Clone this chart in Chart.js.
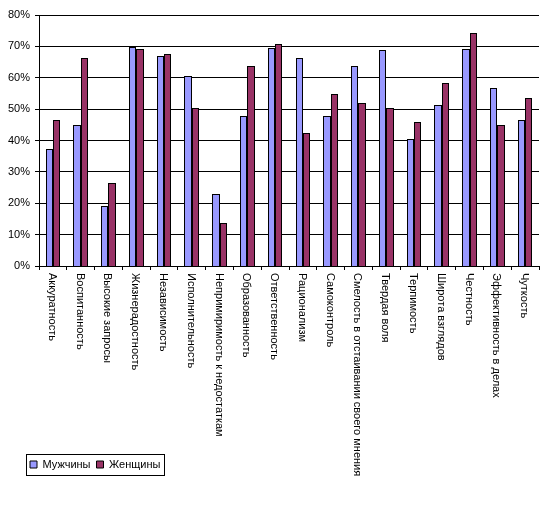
<!DOCTYPE html>
<html>
<head>
<meta charset="utf-8">
<script src="https://cdn.jsdelivr.net/npm/chart.js@4/dist/chart.umd.min.js"></script>
<style>
    html, body { margin: 0; padding: 0; background: #fff; }
    #wrap { width: 550px; height: 524px; }
</style>
</head>
<body>
<div id="wrap"><canvas id="chart-kachestva"></canvas></div>
<script>
var categorias = [
    "Аккуратность", "Воспитанность", "Высокие запросы", "Жизнерадостность",
    "Независимость", "Исполнительность", "Непримиримость к недостаткам",
    "Образованность", "Ответственность", "Рационализм", "Самоконтроль",
    "Смелость в отстаивании своего мнения", "Твердая воля", "Терпимость",
    "Широта взглядов", "Честность", "Эффективность в делах", "Чуткость"
];
var muzhchiny = [37.3, 45.0, 19.0, 69.9, 66.8, 60.7, 22.9, 47.9, 69.4, 66.2, 47.9, 63.6, 68.8, 40.5, 51.4, 69.1, 56.6, 46.6];
var zhenshchiny = [46.6, 66.2, 26.4, 69.1, 67.5, 50.5, 13.6, 63.6, 70.7, 42.5, 54.7, 52.1, 50.5, 46.0, 58.2, 74.2, 45.0, 53.7];
var ticksY = [0, 10, 20, 30, 40, 50, 60, 70, 80];

var FUENTE = "'Liberation Sans', Arial, sans-serif";

// Ajustar las barras a pixeles enteros para que el borde quede nítido
var barrasNitidas = {
    id: 'barrasNitidas',
    beforeDatasetsDraw: function (chart) {
        chart.data.datasets.forEach(function (ds, i) {
            chart.getDatasetMeta(i).data.forEach(function (barra) {
                var izq = Math.round(barra.x - barra.width / 2);
                var der = Math.round(barra.x + barra.width / 2);
                barra.x = (izq + der) / 2;
                barra.width = der - izq;
                barra.y = Math.round(barra.y);
                barra.base = Math.round(barra.base);
            });
        });
    }
};

// Etiquetas verticales (leídas de arriba hacia abajo)
var etiquetasVerticales = {
    id: 'etiquetasVerticales',
    afterDraw: function (chart) {
        var ctx = chart.ctx;
        var escala = chart.scales.x;
        ctx.save();
        ctx.font = "11px " + FUENTE;
        ctx.fillStyle = "#000";
        ctx.textAlign = "left";
        ctx.textBaseline = "middle";
        categorias.forEach(function (texto, i) {
            var x = escala.getPixelForTick(i) - 1;
            ctx.save();
            ctx.translate(x, chart.chartArea.bottom + 7);
            ctx.rotate(Math.PI / 2);
            ctx.fillText(texto, 0, 0);
            ctx.restore();
        });
        ctx.restore();
    }
};

// Mover la leyenda a la derecha y dibujar su marco
var DESPLAZAMIENTO = 21;
var marcoLeyenda = {
    id: 'marcoLeyenda',
    afterLayout: function (chart) {
        var leyenda = chart.legend;
        leyenda.left += DESPLAZAMIENTO;
        leyenda.right += DESPLAZAMIENTO;
        leyenda.legendHitBoxes.forEach(function (caja) { caja.left += DESPLAZAMIENTO; });
    },
    afterDraw: function (chart) {
        var cajas = chart.legend.legendHitBoxes;
        if (!cajas || !cajas.length) return;
        var izq = cajas[0].left - 4;
        var ultima = cajas[cajas.length - 1];
        var der = ultima.left + ultima.width + 4;
        var arriba = cajas[0].top - 5;
        var abajo = cajas[0].top + cajas[0].height + 5;
        var ctx = chart.ctx;
        ctx.save();
        ctx.strokeStyle = "#000";
        ctx.lineWidth = 1;
        ctx.strokeRect(Math.round(izq) + 0.5, Math.round(arriba) + 0.5, Math.round(der - izq), Math.round(abajo - arriba));
        ctx.restore();
    }
};

var chart = new Chart(document.getElementById('chart-kachestva').getContext('2d'), {
    type: 'bar',
    data: {
        labels: categorias,
        datasets: [{
            label: 'Мужчины',
            data: muzhchiny,
            backgroundColor: '#9999FF',
            borderColor: '#000',
            borderWidth: 1,
            borderSkipped: 'bottom'
        }, {
            label: 'Женщины',
            data: zhenshchiny,
            backgroundColor: '#993366',
            borderColor: '#000',
            borderWidth: 1,
            borderSkipped: 'bottom'
        }]
    },
    options: {
        responsive: true,
        maintainAspectRatio: false,
        animation: false,
        layout: { padding: { left: 3, right: 11, top: 15, bottom: 44 } },
        datasets: {
            bar: { barPercentage: 1, categoryPercentage: 0.53 }
        },
        scales: {
            x: {
                grid: {
                    display: true,
                    drawOnChartArea: false,
                    color: '#000',
                    tickLength: 4,
                    offset: true
                },
                border: { color: '#000', width: 1 },
                ticks: { display: false },
                afterFit: function (escala) { escala.height = 187; }
            },
            y: {
                min: 0,
                max: 80,
                afterBuildTicks: function (escala) {
                    escala.ticks = ticksY.map(function (v) { return { value: v }; });
                },
                grid: { color: '#000', tickLength: 4 },
                border: { color: '#000', width: 1 },
                ticks: {
                    color: '#000',
                    padding: 5,
                    font: { family: FUENTE, size: 11 },
                    callback: function (valor) { return valor + '%'; }
                }
            }
        },
        plugins: {
            legend: {
                position: 'bottom',
                align: 'start',
                labels: {
                    color: '#000',
                    boxWidth: 7,
                    boxHeight: 7,
                    padding: 6,
                    font: { family: FUENTE, size: 11 }
                }
            },
            tooltip: { enabled: false }
        }
    },
    plugins: [barrasNitidas, etiquetasVerticales, marcoLeyenda]
});
</script>
</body>
</html>
